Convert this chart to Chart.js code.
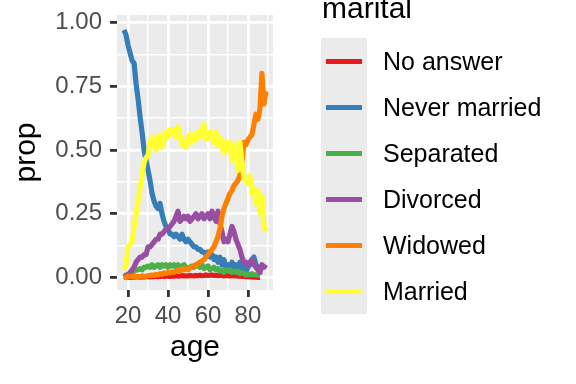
<!DOCTYPE html>
<html>
<head>
<meta charset="utf-8">
<script src="https://cdn.jsdelivr.net/npm/chart.js@4.4.1/dist/chart.umd.min.js"></script>
<style>
  body { margin: 0; background: #fff; }
  #wrap { position: relative; width: 576px; height: 384px; overflow: hidden; font-family: "Liberation Sans", Arial, sans-serif; }
  #legend-title { position: absolute; left: 322px; top: -9px; font-size: 30px; color: #000; white-space: nowrap; }
  #legend-keys { position: absolute; left: 321px; top: 38px; width: 46px; height: 276px; background: #EBEBEB; }
  .key { position: absolute; left: 5px; width: 36px; height: 5px; }
  .lab { position: absolute; left: 383px; font-size: 25px; color: #000; white-space: nowrap; line-height: 28px; }
</style>
</head>
<body>
<div id="wrap">
  <canvas id="chart" width="576" height="384"></canvas>
  <div id="legend-title">marital</div>
  <div id="legend-keys"></div>
</div>
<script>
const ages = [];
for (let a = 18; a <= 89; a++) ages.push(a);

const seriesNames = ['No answer', 'Never married', 'Separated', 'Divorced', 'Widowed', 'Married'];
const seriesColors = ['#E41A1C', '#377EB8', '#4DAF4A', '#984EA3', '#FF7F00', '#FFFF33'];

const xTicks = [20, 40, 60, 80];
const xMinor = [30, 50, 70, 90];
const yTicks = [0, 0.25, 0.5, 0.75, 1];
const yMinor = [0.125, 0.375, 0.625, 0.875];

// ages 18..89
const noAnswer = [0, 0, 0.002, 0, 0.002, 0.001, 0.003, 0.002, 0.001, 0.003, 0.002, 0.004, 0.003, 0.002, 0.004, 0.003,
  0.005, 0.003, 0.004, 0.006, 0.004, 0.005, 0.006, 0.004, 0.006, 0.005, 0.007, 0.005, 0.006, 0.008, 0.006, 0.007,
  0.006, 0.008, 0.007, 0.006, 0.008, 0.007, 0.009, 0.007, 0.008, 0.010, 0.008, 0.009, 0.010, 0.008, 0.009, 0.007,
  0.009, 0.008, 0.006, 0.008, 0.007, 0.006, 0.008, 0.006, 0.007, 0.005, 0.006, 0.004, 0.005, 0.003, 0.004, 0.002,
  0.003, 0.001, 0.002, 0, 0, null, null, null];
const neverMarried = [0.97, 0.95, 0.91, 0.88, 0.85, 0.84, 0.76, 0.70, 0.63, 0.57, 0.50, 0.46, 0.42, 0.38, 0.33, 0.30,
  0.28, 0.27, 0.29, 0.25, 0.22, 0.20, 0.19, 0.17, 0.17, 0.16, 0.17, 0.16, 0.15, 0.17, 0.15, 0.14,
  0.15, 0.14, 0.13, 0.12, 0.12, 0.11, 0.11, 0.10, 0.10, 0.09, 0.10, 0.08, 0.09, 0.07, 0.08, 0.06,
  0.08, 0.05, 0.07, 0.04, 0.05, 0.03, 0.06, 0.04, 0.05, 0.03, 0.06, 0.03, 0.05, 0.02, 0.04, 0.05,
  0.07, 0.08, 0.05, 0.04, 0.01, null, null, null];
const separated = [0.005, 0.01, 0.01, 0.015, 0.02, 0.025, 0.03, 0.03, 0.035, 0.03, 0.04, 0.04, 0.045, 0.04, 0.05, 0.04,
  0.045, 0.05, 0.04, 0.05, 0.045, 0.05, 0.04, 0.05, 0.045, 0.05, 0.04, 0.05, 0.04, 0.045, 0.05, 0.04,
  0.035, 0.04, 0.045, 0.04, 0.05, 0.045, 0.04, 0.05, 0.035, 0.04, 0.045, 0.03, 0.035, 0.04, 0.03, 0.035,
  0.025, 0.03, 0.02, 0.03, 0.025, 0.03, 0.02, 0.025, 0.02, 0.025, 0.015, 0.02, 0.015, 0.01, 0.015, 0.01,
  0.015, 0.01, 0.01, 0.01, 0.01, null, null, null];
const divorced = [0, 0.005, 0.01, 0.02, 0.03, 0.04, 0.06, 0.07, 0.08, 0.08, 0.09, 0.09, 0.12, 0.12, 0.13, 0.14,
  0.15, 0.15, 0.17, 0.17, 0.18, 0.19, 0.19, 0.20, 0.21, 0.22, 0.24, 0.26, 0.22, 0.23, 0.24, 0.23,
  0.24, 0.22, 0.23, 0.24, 0.25, 0.23, 0.24, 0.25, 0.23, 0.24, 0.25, 0.23, 0.26, 0.24, 0.22, 0.26,
  0.21, 0.18, 0.14, 0.15, 0.14, 0.17, 0.20, 0.18, 0.15, 0.13, 0.11, 0.08, 0.06, 0.06, 0.05, 0.06,
  0.07, 0.05, 0.04, 0.03, 0.02, 0.05, 0.04, 0.05];
const widowed = [0.005, 0, 0.005, 0.003, 0.005, 0.002, 0.005, 0.004, 0.003, 0.006, 0.005, 0.004, 0.008, 0.007, 0.01, 0.008,
  0.012, 0.01, 0.015, 0.012, 0.018, 0.015, 0.02, 0.018, 0.022, 0.02, 0.025, 0.03, 0.025, 0.033, 0.03, 0.035,
  0.03, 0.038, 0.04, 0.045, 0.05, 0.055, 0.06, 0.065, 0.07, 0.08, 0.09, 0.10, 0.11, 0.12, 0.14, 0.16,
  0.19, 0.24, 0.27, 0.29, 0.31, 0.33, 0.34, 0.36, 0.37, 0.38, 0.40, 0.45, 0.53, 0.52, 0.54, 0.55,
  0.56, 0.60, 0.64, 0.62, 0.66, 0.80, 0.68, 0.73];
const married = [0.03, 0.05, 0.12, 0.13, 0.14, 0.20, 0.25, 0.30, 0.35, 0.40, 0.45, 0.47, 0.48, 0.53, 0.55, 0.52,
  0.50, 0.55, 0.56, 0.51, 0.54, 0.57, 0.55, 0.58, 0.57, 0.58, 0.55, 0.59, 0.56, 0.52, 0.53, 0.51,
  0.55, 0.56, 0.53, 0.56, 0.54, 0.57, 0.55, 0.58, 0.60, 0.54, 0.55, 0.57, 0.55, 0.53, 0.57, 0.52,
  0.55, 0.51, 0.49, 0.53, 0.50, 0.53, 0.46, 0.52, 0.49, 0.42, 0.53, 0.45, 0.39, 0.38, 0.37, 0.40,
  0.33, 0.35, 0.29, 0.34, 0.25, 0.32, 0.20, 0.18];

const seriesValues = [noAnswer, neverMarried, separated, divorced, widowed, married];

const isIn = (arr, v) => arr.some(t => Math.abs(t - v) < 1e-9);

const panelBg = {
  id: 'panelBg',
  beforeDraw(chart) {
    const {ctx, chartArea: a} = chart;
    ctx.save();
    ctx.fillStyle = '#EBEBEB';
    ctx.fillRect(a.left, a.top, a.right - a.left, a.bottom - a.top);
    ctx.restore();
  }
};

function gridFor(majors) {
  return {
    drawOnChartArea: true,
    drawTicks: true,
    tickLength: 7,
    color: '#FFFFFF',
    lineWidth: c => (c.tick && isIn(majors, c.tick.value)) ? 2.8 : 1.4,
    tickColor: c => (c.tick && isIn(majors, c.tick.value)) ? '#333333' : 'rgba(0,0,0,0)',
    tickWidth: 2.8
  };
}

// no extra label padding, keep the panel where ggplot put it
function noPad(s) {
  s.paddingTop = 0;
  s.paddingBottom = 0;
  s.paddingLeft = 0;
  s.paddingRight = 0;
}

new Chart(document.getElementById('chart'), {
  type: 'line',
  data: {
    datasets: seriesNames.map((name, i) => ({
      label: name,
      data: ages.map((a, j) => ({x: a, y: seriesValues[i][j]})),
      borderColor: seriesColors[i],
      backgroundColor: seriesColors[i],
      borderWidth: 5.2,
      borderJoinStyle: 'round',
      pointRadius: 0,
      tension: 0,
      spanGaps: false,
      order: seriesNames.length - i
    }))
  },
  options: {
    responsive: false,
    animation: false,
    devicePixelRatio: 1,
    layout: {padding: {left: 0, right: 303, top: 15, bottom: 0}},
    plugins: {legend: {display: false}, tooltip: {enabled: false}},
    scales: {
      x: {
        type: 'linear',
        min: 14.45,
        max: 92.55,
        afterBuildTicks: s => { s.ticks = xTicks.concat(xMinor).sort((a, b) => a - b).map(v => ({value: v})); },
        afterFit: s => { s.height = 94; noPad(s); },
        border: {display: false},
        grid: gridFor(xTicks),
        ticks: {
          autoSkip: false,
          maxRotation: 0,
          padding: 4.6,
          color: '#4D4D4D',
          font: {family: 'Liberation Sans', size: 24},
          callback: v => isIn(xTicks, v) ? String(v) : ''
        },
        title: {
          display: true,
          text: 'age',
          color: '#000000',
          font: {family: 'Liberation Sans', size: 30},
          padding: {top: 0, bottom: 18.4}
        }
      },
      y: {
        type: 'linear',
        min: -0.049,
        max: 1.029,
        afterBuildTicks: s => { s.ticks = yTicks.concat(yMinor).sort((a, b) => a - b).map(v => ({value: v})); },
        afterFit: s => { s.width = 117; noPad(s); },
        border: {display: false},
        grid: gridFor(yTicks),
        ticks: {
          autoSkip: false,
          padding: 8,
          color: '#4D4D4D',
          font: {family: 'Liberation Sans', size: 24},
          callback: v => isIn(yTicks, v) ? v.toFixed(2) : ''
        },
        title: {
          display: true,
          text: 'prop',
          color: '#000000',
          font: {family: 'Liberation Sans', size: 30},
          padding: {top: 8.6, bottom: 0}
        }
      }
    }
  },
  plugins: [panelBg]
});

// legend in ggplot style
const wrap = document.getElementById('wrap');
const keys = document.getElementById('legend-keys');
seriesNames.forEach((name, i) => {
  const cy = 61 + i * 46;
  const k = document.createElement('div');
  k.className = 'key';
  k.style.top = (cy - 38 - 2.5) + 'px';
  k.style.background = seriesColors[i];
  keys.appendChild(k);
  const l = document.createElement('div');
  l.className = 'lab';
  l.style.top = (cy - 14) + 'px';
  l.textContent = name;
  wrap.appendChild(l);
});
</script>
</body>
</html>
